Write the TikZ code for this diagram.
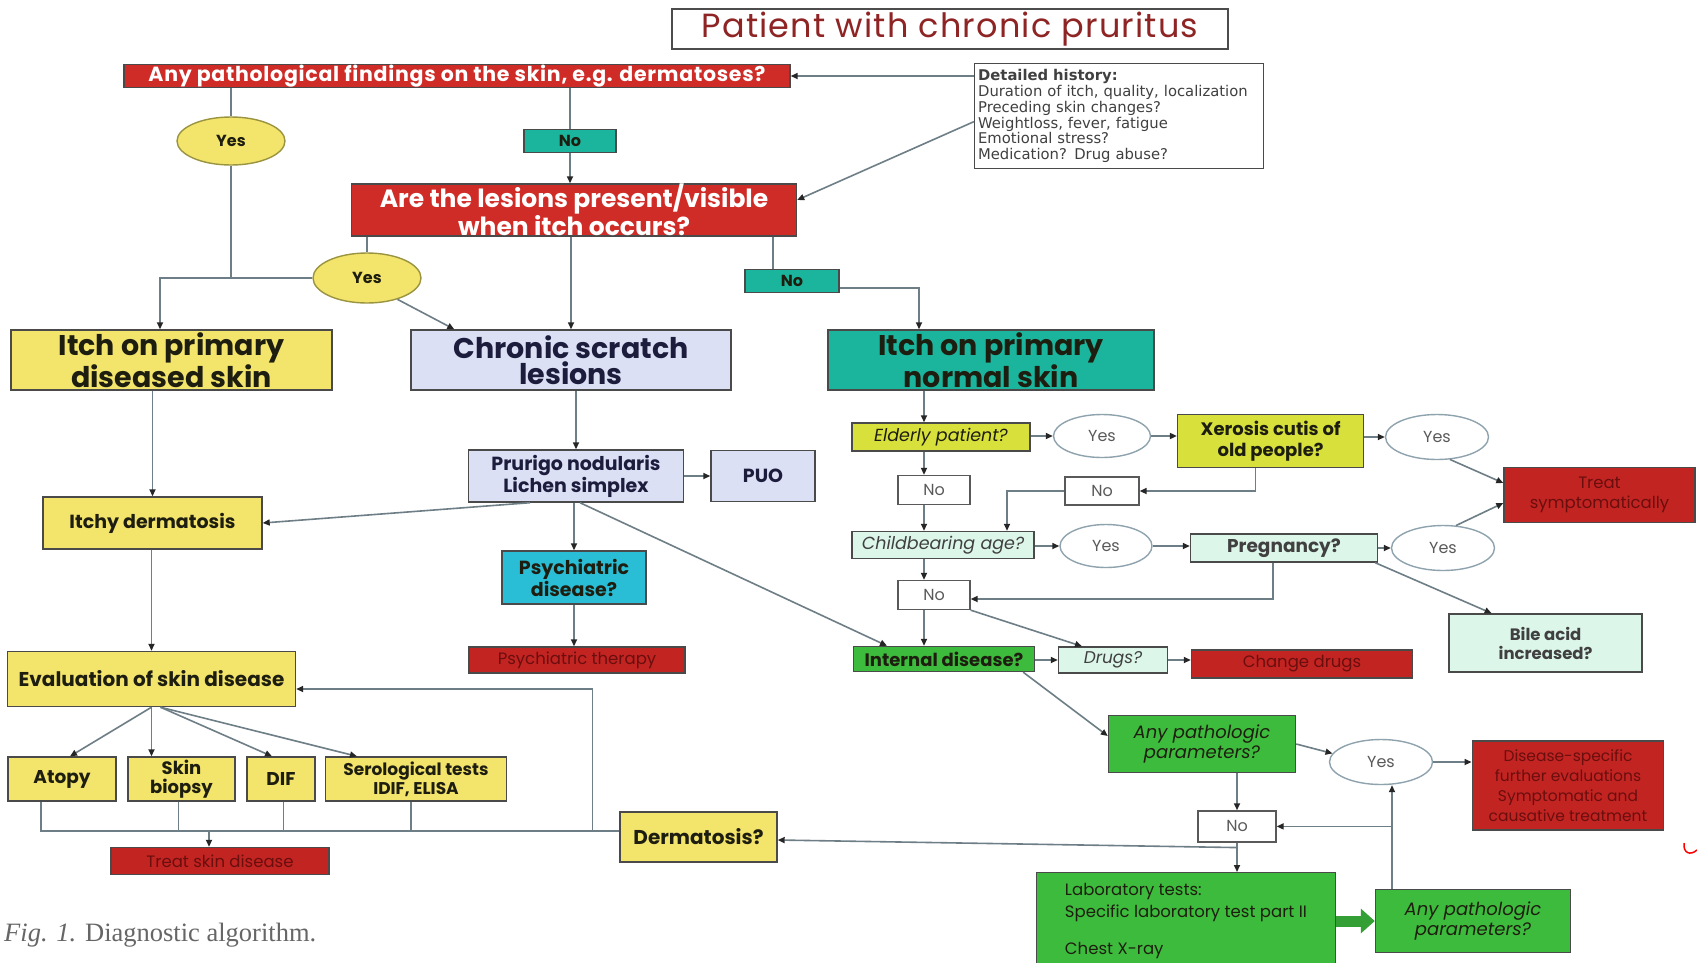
\documentclass[tikz,border=0pt]{standalone}
\usepackage{fontspec}
\newfontfamily\pop{Poppins}
\newfontfamily\popw{Poppins}[LetterSpace=3.5]
\newfontfamily\dvs{DejaVu Sans}
\newfontfamily\libs{Liberation Serif}
\usetikzlibrary{shapes.geometric,arrows.meta,calc}
\newcommand\fsz[2]{\fontsize{#1}{#2}\selectfont}
\definecolor{redc}{HTML}{CF2B27}
\definecolor{redd}{HTML}{C22422}
\definecolor{dred}{HTML}{6A0E0E}
\definecolor{titlec}{HTML}{8E2424}
\definecolor{yelc}{HTML}{F3E46C}
\definecolor{yelb}{HTML}{9A9440}
\definecolor{lavc}{HTML}{DCE0F4}
\definecolor{tealc}{HTML}{1BB59D}
\definecolor{cyanc}{HTML}{2ABDD6}
\definecolor{ygc}{HTML}{D8E13C}
\definecolor{mintc}{HTML}{DDF6EA}
\definecolor{grnc}{HTML}{3DBB3D}
\definecolor{linec}{HTML}{6E7E86}
\definecolor{bordc}{HTML}{4A4A4A}
\definecolor{ellc}{HTML}{8FA3AE}
\definecolor{navyc}{HTML}{1C1C3C}
\definecolor{txtc}{HTML}{1E1E10}
\begin{document}
\begin{tikzpicture}[x=1pt,y=-1pt,
  base/.style={draw=bordc, line width=1.4pt, align=center, inner sep=1pt, font=\pop\bfseries\fsz{19}{22}, text=txtc},
  redw/.style={base, fill=redc, text=white},
  redt/.style={base, fill=redd, text=dred, font=\pop\fsz{16.5}{20}},
  yel/.style={base, fill=yelc},
  lav/.style={base, fill=lavc, text=navyc},
  teal/.style={base, fill=tealc},
  cyanb/.style={base, fill=cyanc},
  yg/.style={base, fill=ygc, font=\pop\bfseries\fsz{18}{21}},
  mint/.style={base, fill=mintc, font=\pop\fsz{16}{19}, text=black!75},
  grn/.style={base, fill=grnc, font=\pop\bfseries\fsz{18}{21}},
  nobox/.style={draw=gray!70!black, line width=1.3pt, fill=white, font=\pop\fsz{16}{19}, text=black!65, inner sep=1pt},
  yesY/.style={ellipse, draw=yelb, line width=1.4pt, fill=yelc, font=\pop\bfseries\fsz{16}{19}, text=txtc, inner sep=0pt},
  yesW/.style={ellipse, draw=ellc, line width=1.4pt, fill=white, font=\pop\fsz{16}{19}, text=black!65, inner sep=0pt},
  ln/.style={draw=linec, line width=1.6pt},
  arr/.style={ln, -{Triangle[length=7pt,width=6pt,color=black!85]}}
]
\useasboundingbox (0,0) rectangle (1697,962);
\fill[white] (0,0) rectangle (1697,962);

% ---------- nodes ----------
\node[draw=gray!60!black, line width=1.5pt, fill=white, minimum width=556pt, minimum height=40pt, inner sep=0pt, font=\popw\fsz{33.5}{36}, text=titlec] (title) at (950,29) {Patient with chronic pruritus};
\node[redw, font=\popw\bfseries\fsz{20.5}{22}, minimum width=666pt, minimum height=23pt, inner sep=0pt] (bar1) at (457,76) {Any pathological findings on the skin, e.g. dermatoses?};
\node[draw=bordc, line width=1.2pt, fill=white, minimum width=289pt, minimum height=105pt, text width=282pt, align=left, anchor=north west, inner sep=3pt, font=\dvs\fsz{14.8}{15.7}, text=black!75] (dh) at (974,63)
 {\textbf{Detailed history:}\\Duration of itch, quality, localization\\Preceding skin changes?\\Weightloss, fever, fatigue\\Emotional stress?\\Medication? Drug abuse?};
\node[yesY, minimum width=108pt, minimum height=48pt] (yes1) at (231,141) {Yes};
\node[teal, font=\pop\bfseries\fsz{16}{19}, minimum width=92pt, minimum height=23pt, inner sep=0pt] (no1) at (570,141) {No};
\node[redw, font=\pop\bfseries\fsz{25}{25}, minimum width=445pt, minimum height=52pt, inner sep=0pt] (box2) at (574,210) {Are the lesions present/visible\\when itch occurs?};
\node[yesY, minimum width=108pt, minimum height=50pt] (yes2) at (367,278) {Yes};
\node[teal, font=\pop\bfseries\fsz{16}{19}, minimum width=94pt, minimum height=23pt, inner sep=0pt] (no2) at (792,281) {No};

\node[yel, font=\pop\bfseries\fsz{28.5}{26}, minimum width=321pt, minimum height=60pt, inner sep=0pt] (itchD) at (171.5,360) {Itch on primary\\diseased skin};
\node[lav, font=\pop\bfseries\fsz{28.5}{26}, minimum width=320pt, minimum height=60pt, inner sep=0pt] (chronic) at (571,360) {Chronic scratch\\lesions};
\node[teal, font=\pop\bfseries\fsz{28.5}{26}, minimum width=326pt, minimum height=60pt, inner sep=0pt] (itchN) at (991,360) {Itch on primary\\normal skin};

\node[lav, minimum width=215pt, minimum height=52pt] (prurigo) at (576,476) {Prurigo nodularis\\Lichen simplex};
\node[lav, minimum width=104pt, minimum height=51pt] (puo) at (763,476) {PUO};
\node[yel, minimum width=219pt, minimum height=52pt] (itchy) at (152.5,523) {Itchy dermatosis};
\node[cyanb, minimum width=144pt, minimum height=53pt] (psych) at (574,577.5) {Psychiatric\\disease?};
\node[redt, minimum width=216pt, minimum height=26pt, inner sep=0pt] (psyth) at (577,660) {Psychiatric therapy};
\node[yel, font=\pop\bfseries\fsz{20}{22}, minimum width=288pt, minimum height=55pt] (eval) at (151.5,679) {Evaluation of skin disease};
\node[yel, font=\pop\bfseries\fsz{18.5}{21}, minimum width=108pt, minimum height=44pt] (atopy) at (62,779) {Atopy};
\node[yel, font=\pop\bfseries\fsz{18}{19}, minimum width=107pt, minimum height=44pt] (biopsy) at (181.5,779) {Skin\\biopsy};
\node[yel, font=\pop\bfseries\fsz{18.5}{21}, minimum width=68pt, minimum height=44pt] (dif) at (281,779) {DIF};
\node[yel, font=\pop\bfseries\fsz{17}{19}, minimum width=181pt, minimum height=44pt] (sero) at (416,779) {Serological tests\\IDIF, ELISA};
\node[redt, minimum width=218pt, minimum height=27pt, inner sep=0pt] (treatskin) at (220,861) {Treat skin disease};
\node[yel, font=\pop\bfseries\fsz{20}{22}, minimum width=157pt, minimum height=50pt] (derm) at (698.5,837) {Dermatosis?};

\node[yg, font=\pop\itshape\fsz{17.5}{20}, minimum width=178pt, minimum height=28pt, inner sep=0pt] (elderly) at (941,437) {Elderly patient?};
\node[yesW, minimum width=97pt, minimum height=43pt] (yesE) at (1102,436) {Yes};
\node[yg, minimum width=186pt, minimum height=53pt] (xer) at (1270.6,441) {Xerosis cutis of\\old people?};
\node[yesW, minimum width=103pt, minimum height=45pt] (yesX) at (1437,437) {Yes};
\node[redt, minimum width=191pt, minimum height=55pt] (treat) at (1599.5,495) {Treat\\symptomatically};
\node[nobox, minimum width=72pt, minimum height=29pt] (noA) at (934,490) {No};
\node[nobox, minimum width=74pt, minimum height=28pt] (noB) at (1102,491) {No};
\node[mint, font=\pop\itshape\fsz{17.5}{20}, minimum width=182pt, minimum height=27pt, inner sep=0pt] (child) at (943,545) {Childbearing age?};
\node[yesW, minimum width=92pt, minimum height=43pt] (yesC) at (1106,546) {Yes};
\node[mint, font=\pop\bfseries\fsz{18.5}{21}, minimum width=187pt, minimum height=28pt, inner sep=0pt] (preg) at (1284,548) {Pregnancy?};
\node[yesW, minimum width=103pt, minimum height=45pt] (yesP) at (1443,548) {Yes};
\node[nobox, minimum width=72pt, minimum height=29pt] (noC) at (934,595) {No};
\node[mint, font=\pop\bfseries\fsz{16.5}{19}, minimum width=193pt, minimum height=58pt] (bile) at (1545.6,643) {Bile acid\\increased?};
\node[grn, minimum width=181pt, minimum height=25pt, inner sep=0pt] (internal) at (944,659) {Internal disease?};
\node[mint, font=\pop\itshape\fsz{17}{19}, minimum width=109pt, minimum height=26pt, inner sep=0pt] (drugs) at (1113,660) {Drugs?};
\node[redt, minimum width=221pt, minimum height=28pt, inner sep=0pt] (change) at (1302,664) {Change drugs};
\node[grn, font=\pop\itshape\fsz{18}{20}, minimum width=187pt, minimum height=57pt] (ap1) at (1202,744) {Any pathologic\\parameters?};
\node[yesW, minimum width=103pt, minimum height=45pt] (yesAP) at (1381,762) {Yes};
\node[redt, font=\pop\fsz{15.5}{20}, minimum width=191.5pt, minimum height=89pt] (disspec) at (1568,785.6) {Disease-specific\\further evaluations\\Symptomatic and\\causative treatment};
\node[nobox, minimum width=78pt, minimum height=31pt] (noD) at (1237,826.4) {No};
\node[grn, font=\pop\fsz{16.5}{22}, align=left, anchor=north west, minimum width=298.5pt, minimum height=96pt, inner sep=3pt] (lab) at (1036,872) {Laboratory tests:\\Specific laboratory test part II\\[15pt]Chest X-ray};
\node[grn, font=\pop\itshape\fsz{18}{20}, minimum width=195pt, minimum height=63pt] (ap2) at (1473,921) {Any pathologic\\parameters?};

\node[anchor=west, inner sep=0pt, font=\libs\fsz{26.5}{28}, text=black!60] (cap) at (4,935) {\textit{Fig. 1.} Diagnostic algorithm.};

% ---------- connectors ----------
\draw[arr] (dh.west |- bar1.east) -- (bar1.east);
\draw[arr] ([yshift=-5.5pt]dh.west) -- ([yshift=10pt]box2.east);
\draw[ln] (yes1.north |- bar1.south) -- (yes1.north);
\draw[ln] (yes1.south) -- (yes1.south |- yes2.west);
\coordinate (idtop) at ([xshift=-11.5pt]itchD.north);
\draw[arr] (yes2.west) -| (idtop);
\draw[ln] (no1.north |- bar1.south) -- (no1.north);
\draw[arr] (no1.south) -- (no1.south |- box2.north);
\draw[ln] (yes2.north |- box2.south) -- (yes2.north);
\draw[arr] (chronic.north |- box2.south) -- (chronic.north);
\coordinate (n2top) at ([xshift=-19pt]no2.north);
\draw[ln] (n2top |- box2.south) -- (n2top);
\coordinate (intop) at ([xshift=-72pt]itchN.north);
\draw[arr] ([yshift=-7pt]no2.east) -| (intop);
\draw[arr] (yes2.-35) -- ([xshift=44pt]chronic.north west);

\draw[arr] (itchy.north |- itchD.south) -- (itchy.north);
\draw[arr] (prurigo.north |- chronic.south) -- (prurigo.north);
\draw[arr] (prurigo.east) -- (puo.west);
\draw[arr] ([xshift=-46pt]prurigo.south) -- (itchy.east);
\draw[arr] (psych.north |- prurigo.south) -- (psych.north);
\draw[arr] ([xshift=4pt]prurigo.south) -- ([xshift=-57pt]internal.north);
\draw[arr] (psych.south) -- (psych.south |- psyth.north);
\draw[arr] (eval.north |- itchy.south) -- (eval.north);

\coordinate (e1) at (eval.south);
\coordinate (e2) at ([xshift=9pt]eval.south);
\draw[arr] (e1) -- ([xshift=8pt]atopy.north);
\draw[arr] (e1) -- ([xshift=-30pt]biopsy.north);
\draw[arr] (e2) -- ([xshift=-9pt]dif.north);
\draw[arr] (e2) -- ([xshift=-59pt]sero.north);

\coordinate (busR) at ([yshift=6pt]derm.west);
\draw[ln] ([xshift=-21pt]atopy.south) |- (busR);
\coordinate (b1) at ([xshift=-3pt]biopsy.south);
\coordinate (b2) at ([xshift=2.6pt]dif.south);
\coordinate (b3) at ([xshift=-5pt]sero.south);
\draw[ln] (b1) -- (b1 |- busR);
\draw[ln] (b2) -- (b2 |- busR);
\draw[ln] (b3) -- (b3 |- busR);
\coordinate (ts) at ([xshift=-11pt]treatskin.north);
\draw[arr] (ts |- busR) -- (ts);
\coordinate (vb) at ([xshift=-27pt]derm.west);
\draw[arr] (vb |- busR) |- ([yshift=-10pt]eval.east);
\draw[arr] ($(noD.south)!0.17!(noD.south |- lab.north)$) -- ([yshift=-3pt]derm.east);

\coordinate (colx) at (924,0);
\draw[arr] (colx |- itchN.south) -- (colx |- elderly.north);
\draw[arr] (colx |- elderly.south) -- (colx |- noA.north);
\draw[arr] (colx |- noA.south) -- (colx |- child.north);
\draw[arr] (colx |- child.south) -- (colx |- noC.north);
\draw[arr] (colx |- noC.south) -- (colx |- internal.north);

\draw[arr] (elderly.east |- yesE.west) -- (yesE.west);
\draw[arr] (yesE.east) -- (yesE.east -| xer.west);
\draw[arr] (xer.east |- yesX.west) -- (yesX.west);
\draw[arr] (yesX.-60) -- ([yshift=12pt]treat.west);
\draw[arr] (yesP.60) -- ([yshift=-8pt]treat.west);
\coordinate (xb) at ([xshift=-15pt]xer.south);
\draw[arr] (xb) |- (noB.east);
\coordinate (cb) at ([xshift=64pt]child.north);
\draw[arr] (noB.west) -| (cb);
\draw[arr] (child.east |- yesC.west) -- (yesC.west);
\draw[arr] (yesC.east) -- (yesC.east -| preg.west);
\draw[arr] (preg.east) -- (preg.east -| yesP.west);
\coordinate (pb) at ([xshift=-11pt]preg.south);
\draw[arr] (pb) |- ([yshift=-4pt]noC.east);
\draw[arr] ([xshift=-3pt]preg.south east) -- ([xshift=-54pt]bile.north);
\draw[arr] (noC.south east) -- ([xshift=-31pt]drugs.north);
\draw[arr] (internal.east |- drugs.west) -- (drugs.west);
\draw[arr] (drugs.east) -- (drugs.east -| change.west);
\draw[arr] ([xshift=-12pt]internal.south east) -- ([yshift=8pt]ap1.west);
\draw[arr] (ap1.east) -- (yesAP.170);
\draw[arr] (yesAP.east) -- (yesAP.east -| disspec.west);
\coordinate (apx) at ([xshift=-81pt]ap2.north);
\draw[arr] (apx) -- (apx |- yesAP.south);
\draw[arr] (apx |- noD.east) -- (noD.east);
\draw[arr] (ap1.south -| noD.north) -- (noD.north);
\draw[arr] (noD.south) -- (noD.south |- lab.north);
\draw[line width=11pt, draw=grnc!85!black, -{Triangle[length=14pt,width=24pt,color=grnc!85!black]}] (ap2.west -| lab.east) -- (ap2.west);

% small red mark at right edge
\draw[red, line width=1.5pt] (1684,843) .. controls (1683,853) and (1690,856) .. (1697,850);
\end{tikzpicture}
\end{document}
